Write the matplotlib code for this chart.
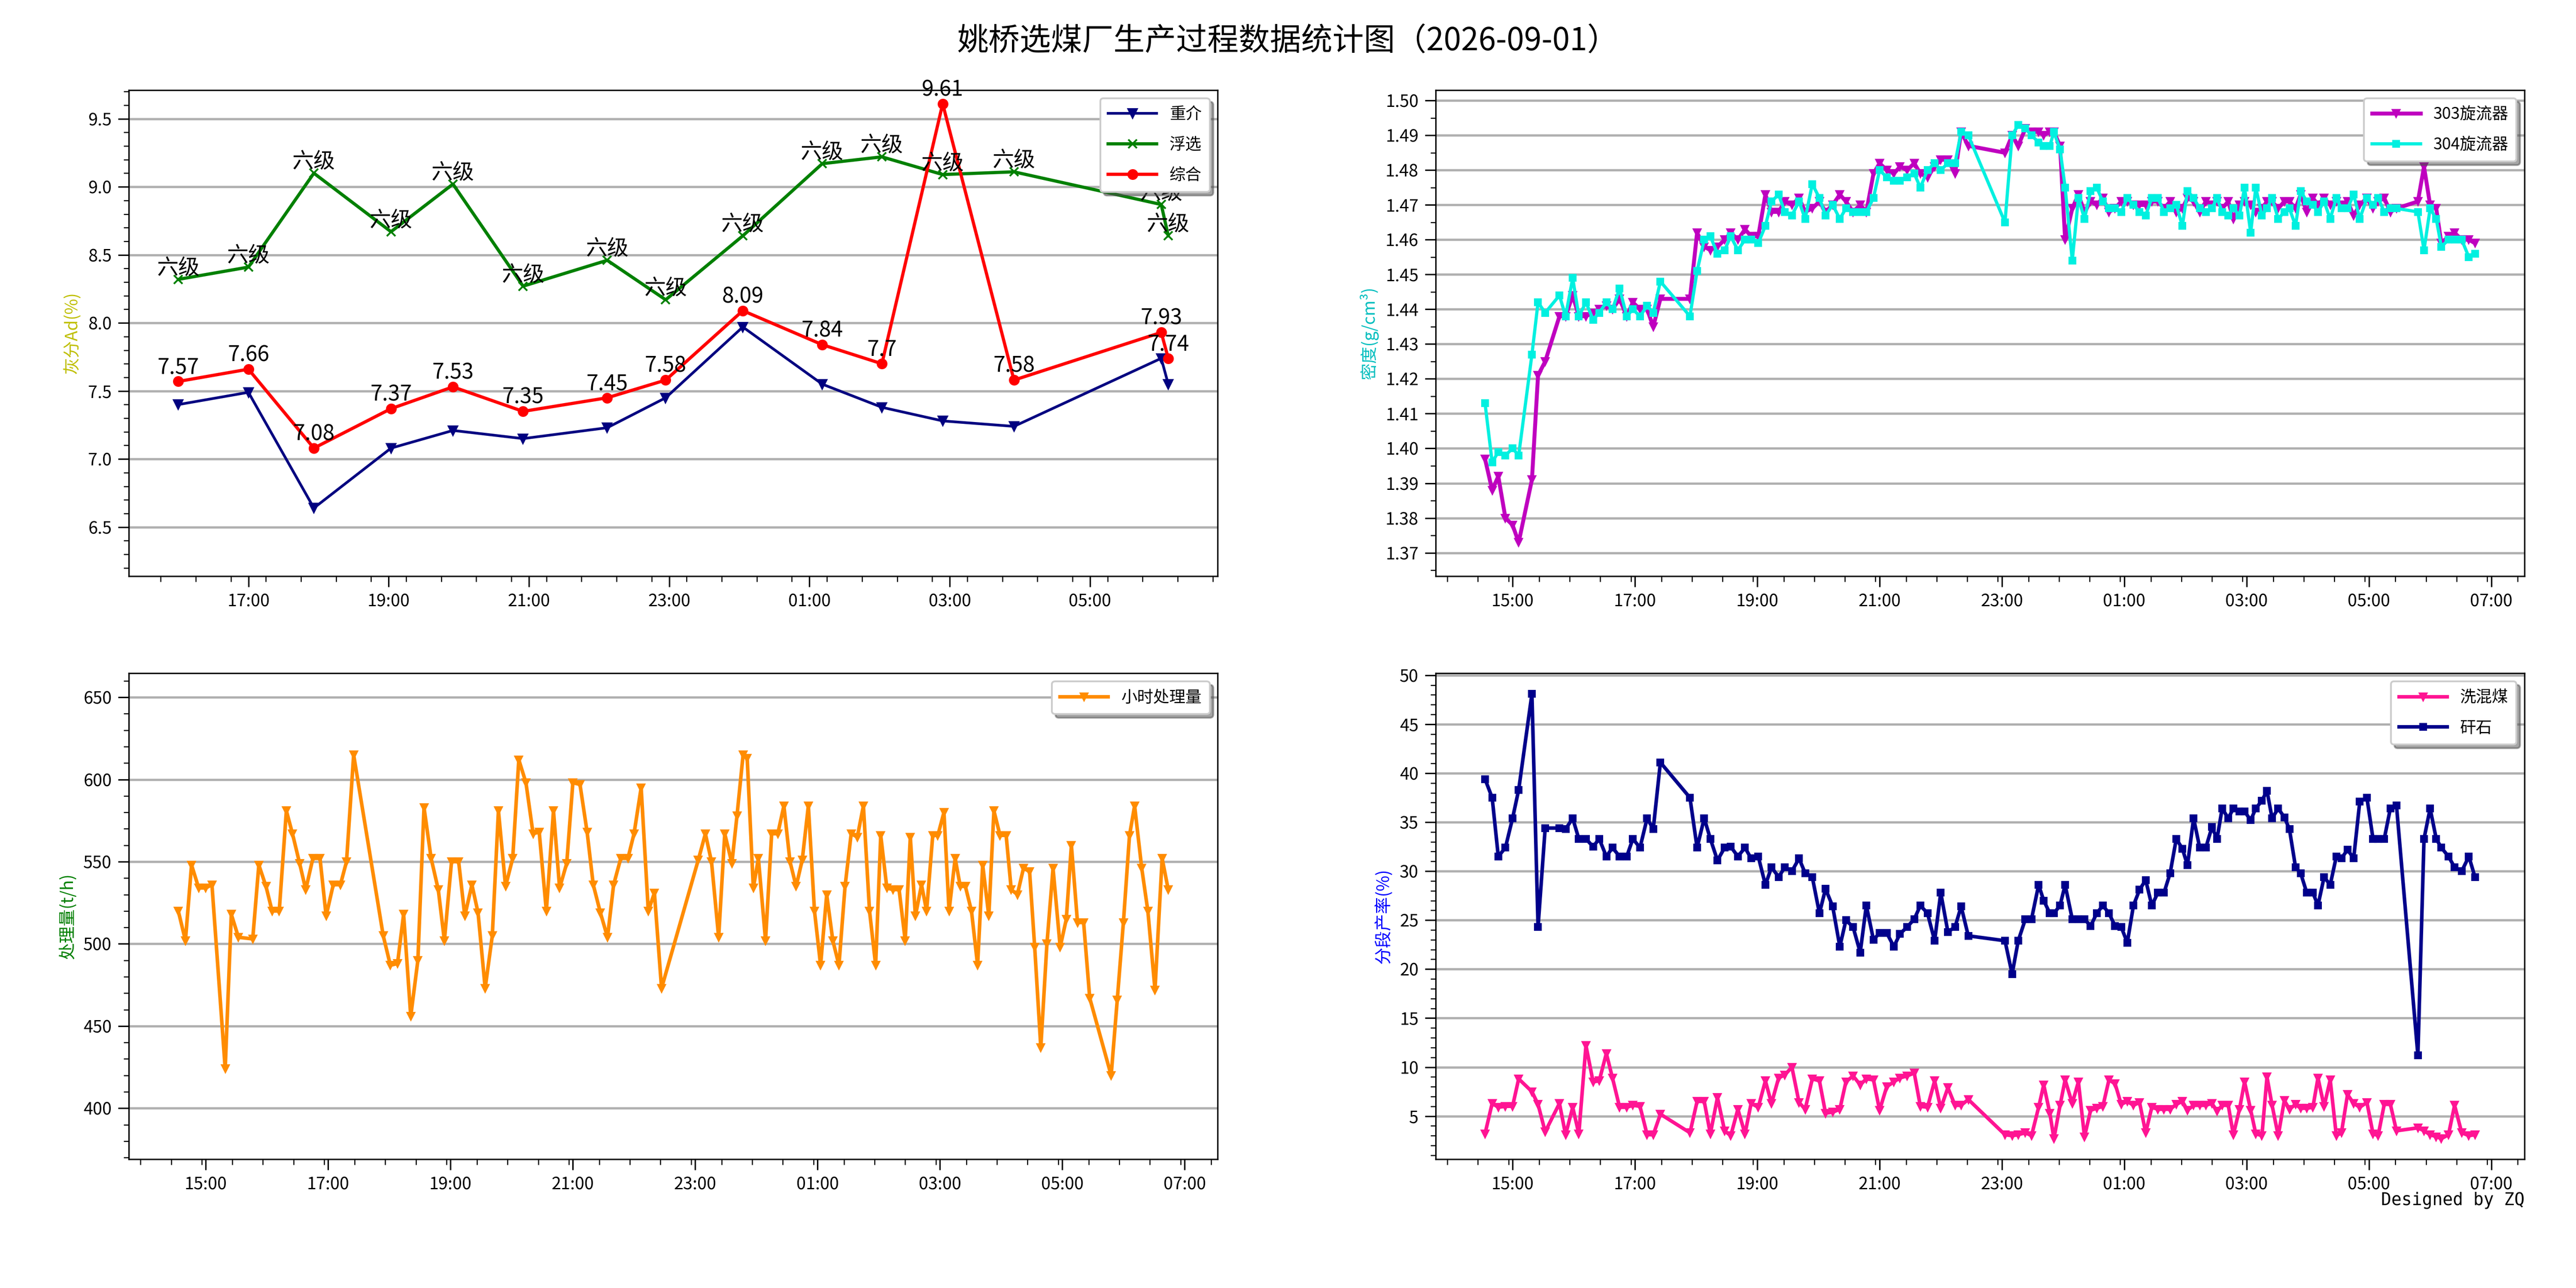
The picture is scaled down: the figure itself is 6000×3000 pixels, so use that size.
import datetime
import matplotlib
matplotlib.use('Agg')
import matplotlib.pyplot as plt
import matplotlib.dates as mdates
from matplotlib.ticker import MultipleLocator

plt.rcParams['font.family'] = ['Noto Sans CJK SC', 'DejaVu Sans']
plt.rcParams['axes.unicode_minus'] = False

# ---- ash (hourly samples) ----
ash_times = ["16:00", "17:00", "17:56", "19:02", "19:55", "20:55", "22:07", "22:57",
             "00:03", "01:11", "02:02", "02:54", "03:55", "06:01", "06:07"]
ash_dense = [7.40, 7.49, 6.64, 7.08, 7.21, 7.15, 7.23, 7.45, 7.97, 7.55, 7.38, 7.28, 7.24, 7.74, 7.55]
ash_float = [8.32, 8.41, 9.10, 8.67, 9.02, 8.27, 8.46, 8.17, 8.64, 9.17, 9.22, 9.09, 9.11, 8.87, 8.64]
ash_total = [7.57, 7.66, 7.08, 7.37, 7.53, 7.35, 7.45, 7.58, 8.09, 7.84, 7.7, 9.61, 7.58, 7.93, 7.74]
float_grade = "六级"

# ---- process data (same timestamps for the three dense charts) ----
times = ["14:33", "14:40", "14:46", "14:53", "15:00", "15:06", "15:19", "15:25", "15:32", "15:46",
         "15:52", "15:59", "16:05", "16:12", "16:19", "16:25", "16:32", "16:38", "16:45", "16:52",
         "16:58", "17:05", "17:12", "17:18", "17:25", "17:54", "18:01", "18:08", "18:14", "18:21",
         "18:28", "18:34", "18:41", "18:48", "18:54", "19:01", "19:08", "19:14", "19:21", "19:27",
         "19:34", "19:41", "19:47", "19:54", "20:01", "20:07", "20:14", "20:21", "20:27", "20:34",
         "20:41", "20:47", "20:54", "21:00", "21:07", "21:14", "21:20", "21:27", "21:34", "21:40",
         "21:47", "21:54", "22:00", "22:07", "22:14", "22:20", "22:27",
         "23:03", "23:10", "23:16", "23:23", "23:29", "23:36", "23:41", "23:47", "23:51", "23:57",
         "00:02", "00:09", "00:15", "00:21", "00:27", "00:33", "00:39", "00:45", "00:51", "00:57",
         "01:03", "01:09", "01:15", "01:21", "01:27", "01:33", "01:39", "01:45", "01:51", "01:57",
         "02:02", "02:08", "02:14", "02:20", "02:26", "02:31", "02:36", "02:42", "02:47", "02:53",
         "02:58", "03:04", "03:09", "03:15", "03:20", "03:25", "03:31", "03:37", "03:42", "03:48",
         "03:53", "03:59", "04:05", "04:10", "04:16", "04:22", "04:28", "04:33", "04:39", "04:45",
         "04:51", "04:58", "05:04", "05:09", "05:15", "05:21", "05:27", "05:48", "05:54", "06:00",
         "06:06", "06:11", "06:18", "06:24", "06:31", "06:38", "06:44"]

density_303 = [1.397, 1.388, 1.392, 1.380, 1.378, 1.373, 1.391, 1.421, 1.425, 1.438,
               1.438, 1.444, 1.438, 1.438, 1.439, 1.440, 1.441, 1.440, 1.443, 1.438,
               1.442, 1.440, 1.440, 1.435, 1.443, 1.443, 1.462, 1.458, 1.457, 1.458,
               1.460, 1.462, 1.460, 1.463, 1.461, 1.461, 1.473, 1.468, 1.468, 1.471,
               1.470, 1.472, 1.468, 1.469, 1.471, 1.468, 1.470, 1.473, 1.471, 1.468,
               1.470, 1.468, 1.479, 1.482, 1.480, 1.479, 1.481, 1.480, 1.482, 1.479,
               1.478, 1.481, 1.483, 1.483, 1.479, 1.491, 1.487,
               1.485, 1.490, 1.487, 1.492, 1.491, 1.491, 1.490, 1.491, 1.491, 1.487,
               1.460, 1.469, 1.473, 1.468, 1.471, 1.470, 1.472, 1.468, 1.469, 1.471,
               1.471, 1.470, 1.470, 1.470, 1.471, 1.471, 1.469, 1.471, 1.468, 1.469,
               1.472, 1.471, 1.468, 1.471, 1.470, 1.471, 1.469, 1.471, 1.466, 1.470,
               1.471, 1.470, 1.468, 1.469, 1.471, 1.471, 1.469, 1.471, 1.471, 1.469,
               1.473, 1.468, 1.472, 1.470, 1.472, 1.470, 1.471, 1.470, 1.471, 1.467,
               1.470, 1.472, 1.469, 1.471, 1.472, 1.468, 1.469, 1.471, 1.481, 1.470,
               1.469, 1.459, 1.461, 1.462, 1.460, 1.460, 1.459]
density_304 = [1.413, 1.396, 1.399, 1.398, 1.400, 1.398, 1.427, 1.442, 1.439, 1.444,
               1.438, 1.449, 1.438, 1.442, 1.437, 1.439, 1.442, 1.440, 1.446, 1.438,
               1.440, 1.438, 1.441, 1.439, 1.448, 1.438, 1.451, 1.460, 1.461, 1.456,
               1.457, 1.461, 1.457, 1.460, 1.460, 1.459, 1.464, 1.471, 1.473, 1.468,
               1.467, 1.471, 1.466, 1.476, 1.472, 1.467, 1.470, 1.466, 1.469, 1.468,
               1.468, 1.468, 1.472, 1.480, 1.478, 1.477, 1.477, 1.478, 1.479, 1.475,
               1.480, 1.482, 1.480, 1.482, 1.482, 1.491, 1.490,
               1.465, 1.490, 1.493, 1.492, 1.490, 1.488, 1.487, 1.487, 1.491, 1.486,
               1.475, 1.454, 1.472, 1.466, 1.474, 1.475, 1.471, 1.469, 1.469, 1.468,
               1.472, 1.470, 1.468, 1.467, 1.472, 1.472, 1.468, 1.469, 1.470, 1.464,
               1.474, 1.472, 1.469, 1.468, 1.469, 1.472, 1.468, 1.467, 1.469, 1.467,
               1.475, 1.462, 1.475, 1.467, 1.469, 1.472, 1.466, 1.468, 1.469, 1.464,
               1.474, 1.471, 1.470, 1.468, 1.471, 1.466, 1.472, 1.469, 1.469, 1.473,
               1.466, 1.472, 1.470, 1.472, 1.468, 1.469, 1.469, 1.468, 1.457, 1.469,
               1.466, 1.458, 1.460, 1.460, 1.460, 1.455, 1.456]
throughput = [520, 502, 548, 534, 534, 536, 424, 518, 504, 503,
              548, 535, 520, 520, 581, 567, 549, 533, 552, 552,
              517, 536, 536, 550, 615, 505, 487, 488, 518, 456,
              490, 583, 552, 533, 502, 550, 550, 517, 536, 519,
              473, 505, 581, 535, 552, 612, 598, 567, 568, 520,
              581, 534, 549, 598, 597, 568, 536, 519, 504, 536,
              552, 552, 567, 595, 520, 531, 473,
              551, 567, 550, 504, 567, 549, 578, 615, 613, 534,
              552, 502, 567, 567, 584, 550, 535, 551, 584, 520,
              487, 530, 502, 487, 535, 567, 565, 584, 520, 487,
              566, 534, 533, 533, 502, 565, 517, 536, 520, 566,
              566, 580, 520, 552, 535, 535, 520, 487, 548, 517,
              581, 566, 566, 533, 530, 546, 544, 498, 437, 500,
              546, 498, 515, 560, 513, 513, 467, 420, 466, 513,
              566, 584, 546, 520, 472, 552, 533]
yield_wash = [3.2, 6.3, 5.9, 6.0, 6.0, 8.8, 7.5, 6.2, 3.4, 6.3,
              3.1, 5.9, 3.2, 12.2, 8.5, 8.6, 11.4, 8.9, 5.9, 5.9,
              6.1, 6.0, 3.1, 3.1, 5.2, 3.3, 6.5, 6.5, 3.2, 6.9,
              3.5, 3.0, 5.7, 3.2, 6.3, 5.9, 8.6, 6.3, 8.9, 9.2,
              10.0, 6.4, 5.7, 8.8, 8.6, 5.3, 5.4, 5.7, 8.5, 9.1,
              8.2, 8.8, 8.7, 5.6, 8.0, 8.5, 8.9, 9.1, 9.4, 6.0,
              5.9, 8.6, 5.8, 7.9, 6.1, 6.1, 6.7,
              3.1, 3.0, 3.1, 3.3, 3.0, 5.9, 8.2, 5.3, 2.7, 6.1,
              8.7, 6.3, 8.5, 2.9, 5.6, 5.8, 6.0, 8.7, 8.3, 6.2,
              6.5, 6.1, 6.4, 3.3, 5.9, 5.7, 5.7, 5.7, 6.2, 6.5,
              5.6, 6.1, 6.1, 6.1, 6.3, 5.5, 6.1, 6.1, 3.1, 5.7,
              8.5, 5.6, 3.2, 3.0, 9.0, 6.1, 3.0, 6.6, 5.7, 6.2,
              5.8, 5.8, 5.9, 8.9, 6.0, 8.7, 3.0, 3.3, 7.2, 6.3,
              5.9, 6.4, 3.2, 3.0, 6.2, 6.2, 3.5, 3.8, 3.5, 3.1,
              2.9, 2.7, 3.1, 6.1, 3.3, 3.0, 3.1]
yield_gangue = [39.4, 37.5, 31.5, 32.4, 35.4, 38.3, 48.1, 24.3, 34.4, 34.4,
                34.3, 35.4, 33.3, 33.3, 32.5, 33.3, 31.5, 32.4, 31.5, 31.5,
                33.3, 32.4, 35.4, 34.3, 41.1, 37.5, 32.4, 35.4, 33.3, 31.1,
                32.4, 32.5, 31.5, 32.4, 31.3, 31.5, 28.6, 30.4, 29.4, 30.4,
                30.0, 31.3, 29.8, 29.4, 25.7, 28.2, 26.4, 22.3, 25.0, 24.3,
                21.7, 26.5, 23.0, 23.7, 23.7, 22.3, 23.6, 24.3, 25.1, 26.5,
                25.7, 22.9, 27.8, 23.8, 24.3, 26.4, 23.4,
                22.9, 19.5, 22.9, 25.1, 25.1, 28.6, 27.0, 25.7, 25.7, 26.5,
                28.6, 25.1, 25.1, 25.1, 24.4, 25.7, 26.5, 25.7, 24.4, 24.3,
                22.7, 26.5, 28.1, 29.1, 26.5, 27.8, 27.8, 29.8, 33.3, 32.3,
                30.6, 35.4, 32.4, 32.4, 34.5, 33.3, 36.4, 35.4, 36.4, 36.1,
                36.1, 35.2, 36.4, 37.2, 38.2, 35.4, 36.4, 35.5, 34.3, 30.4,
                29.8, 27.8, 27.8, 26.5, 29.4, 28.6, 31.5, 31.3, 32.2, 31.3,
                37.1, 37.5, 33.3, 33.3, 33.3, 36.4, 36.7, 11.2, 33.3, 36.4,
                33.3, 32.4, 31.5, 30.4, 30.0, 31.5, 29.4]


def to_dt(hm):
    h, m = map(int, hm.split(':'))
    if h >= 12:
        return datetime.datetime(2026, 8, 31, h, m)
    return datetime.datetime(2026, 9, 1, h, m)


ash_x = [to_dt(t) for t in ash_times]
x = [to_dt(t) for t in times]

fig, axes = plt.subplots(2, 2, figsize=(20, 10), dpi=300)
plt.subplots_adjust(left=0.05, right=0.98, top=0.93, bottom=0.10, wspace=0.2, hspace=0.2)
fig.suptitle("姚桥选煤厂生产过程数据统计图（2026-09-01）", fontsize=17.5, y=0.968, va='center')

# top left: ash
ax = axes[0, 0]
ax.plot(ash_x, ash_dense, color='navy', marker='v', lw=1.5, ms=5, label='重介')
ax.plot(ash_x, ash_float, color='green', marker='x', lw=1.8, ms=5, label='浮选')
ax.plot(ash_x, ash_total, color='red', marker='o', lw=1.8, ms=5, label='综合')
for xi, yi in zip(ash_x, ash_float):
    ax.text(xi, yi, float_grade, ha='center', va='bottom', fontsize=12)
for xi, yi in zip(ash_x, ash_total):
    ax.text(xi, yi + 0.02, str(yi), ha='center', va='bottom', fontsize=12)
ax.set_ylim(6.14, 9.71)
ax.yaxis.set_major_locator(MultipleLocator(0.5))
ax.yaxis.set_minor_locator(MultipleLocator(0.1))
ax.set_ylabel("灰分Ad(%)", color='y', fontsize=9.5)

# top right: density
ax = axes[0, 1]
ax.plot(x, density_303, color='m', marker='v', lw=2.2, ms=4, label='303旋流器')
ax.plot(x, density_304, color='#00f0e0', marker='s', lw=1.8, ms=3.5, label='304旋流器')
ax.set_ylim(1.3633, 1.503)
ax.yaxis.set_major_locator(MultipleLocator(0.01))
ax.yaxis.set_minor_locator(MultipleLocator(0.005))
ax.set_ylabel("密度(g/cm³)", color='c', fontsize=9.5)

# bottom left: throughput
ax = axes[1, 0]
ax.plot(x, throughput, color='darkorange', marker='v', lw=2.0, ms=4, label='小时处理量')
ax.set_ylim(369, 664.6)
ax.yaxis.set_major_locator(MultipleLocator(50))
ax.yaxis.set_minor_locator(MultipleLocator(10))
ax.set_ylabel("处理量(t/h)", color='g', fontsize=9.5)

# bottom right: yields
ax = axes[1, 1]
ax.plot(x, yield_wash, color='deeppink', marker='v', lw=2.0, ms=4, label='洗混煤')
ax.plot(x, yield_gangue, color='darkblue', marker='s', lw=2.0, ms=3.5, label='矸石')
ax.set_ylim(0.6, 50.2)
ax.yaxis.set_major_locator(MultipleLocator(5))
ax.yaxis.set_minor_locator(MultipleLocator(1))
ax.set_ylabel("分段产率(%)", color='b', fontsize=9.5)

for ax in axes.flat:
    ax.xaxis.set_major_locator(mdates.HourLocator(byhour=range(1, 24, 2)))
    ax.xaxis.set_minor_locator(mdates.MinuteLocator(interval=30))
    ax.xaxis.set_major_formatter(mdates.DateFormatter('%H:%M'))
    ax.tick_params(which='major', length=6, labelsize=9.5)
    ax.tick_params(which='minor', length=3)
    ax.grid(axis='y', color='#b0b0b0', linewidth=1.3)
    ax.legend(loc='upper right', fontsize=9, shadow=True, handlelength=3.0,
              labelspacing=0.85, borderpad=0.5)

fig.text(0.98, 0.068, "Designed by ZQ", ha='right', va='center', fontsize=9.5,
         family='DejaVu Sans Mono')

plt.savefig('out.png')
